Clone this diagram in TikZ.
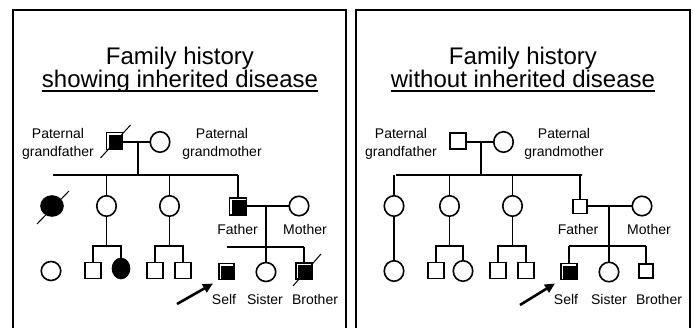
\documentclass[tikz,border=0pt]{standalone}
\usepackage{fontspec}
\setmainfont{Liberation Sans}
\usetikzlibrary{shapes.geometric,arrows.meta,calc}
\begin{document}
\begin{tikzpicture}[x=1pt,y=-1pt,
  sq/.style={draw,line width=1.6pt,rectangle,inner sep=0,outer sep=0,minimum width=15.5pt,minimum height=16pt},
  smsq/.style={sq,minimum width=14pt,minimum height=14pt},
  ci/.style={draw,line width=1.6pt,ellipse,inner sep=0,outer sep=0,minimum width=19.5pt,minimum height=20.5pt},
  fci/.style={ci,fill=black},
  ln/.style={line width=1.8pt},
  frame/.style={line width=2pt},
  lbl/.style={font=\fontsize{14}{17.5}\selectfont,inner sep=0,anchor=base,align=center},
  ttl/.style={font=\fontsize{24}{27}\selectfont,inner sep=0,anchor=base},
  slash/.style={line width=1pt},
  ptr/.style={line width=2.6pt,-{Triangle[length=10pt,width=9pt]}},
]
\useasboundingbox (0,0) rectangle (694,328);
\clip (0,0) rectangle (694,328);
\fill[white] (0,0) rectangle (694,328);
% frames
\draw[frame] (13,10) rectangle (346,345);
\draw[frame] (356,10) rectangle (690,345);

%================ LEFT PANEL =================
\node[ttl] (tL1) at (180,65) {Family history};
\node[ttl] (tL2) at (180,88) {showing inherited disease};
\draw[line width=1.7pt] ($(tL2.base west)+(0,3)$) -- ($(tL2.base east)+(0,3)$);

\node[sq,minimum width=16pt,minimum height=17pt] (gfL) at (114.5,141) {};
\fill ($(gfL.north west)+(2.2,2.2)$) rectangle (gfL.south east);
\draw[slash] ($(gfL)+(-14,17)$) -- ($(gfL)+(16,-16)$);
\node[ci] (gmL) at (160,142) {};
\draw[ln] (gfL.east |- gmL) -- (gmL.west);
\coordinate (mL) at (138,142);
\coordinate (sL) at (138,175);
\draw[ln] (mL) -- (sL);
\coordinate (sLa) at (53,175);
\coordinate (sLb) at (238,175);
\draw[ln] (sLa) -- (sLb);
\node[lbl] (pgfL) at (58,156.5) {Paternal\\grandfather};
\node[lbl] (pgmL) at (222,156.5) {Paternal\\grandmother};

% generation 2
\node[fci,minimum width=22pt,minimum height=20pt] (aL) at (52,206) {};
\draw[slash] ($(aL)+(-15,18)$) -- ($(aL)+(17,-15)$);
\node[ci] (bL) at (106.5,206) {};
\node[ci] (cL) at (169.5,206) {};
\node[sq,minimum width=17pt,minimum height=17pt] (fL) at (238,206.5) {};
\fill ($(fL.north west)+(2.2,2.2)$) rectangle (fL.south east);
\node[ci,minimum height=19.5pt] (moL) at (299,206) {};
\draw[ln] (bL.north) -- (bL.north |- sLa);
\draw[ln] (cL.north) -- (cL.north |- sLa);
\draw[ln] (fL.north) -- (fL.north |- sLa);
\draw[ln] (fL.east |- moL) -- (moL.west);
\node[lbl] (faL) at (237.5,234.5) {Father};
\node[lbl] (mtL) at (305,234.5) {Mother};
\coordinate (mL2) at (266,206);
\coordinate (sL2) at (266,247);
\draw[ln] (mL2) -- (sL2);
\coordinate (sL2a) at (227,247);
\coordinate (sL2b) at (304,247);
\draw[ln] (sL2a) -- (sL2b);

% generation 3
\node[ci,minimum height=19pt] (dL) at (51,271) {};
\coordinate (jL) at (106.5,246);
\draw[ln] (bL.south) -- (jL);
\node[sq] (eL) at (93,270.5) {};
\node[fci,minimum width=17pt,minimum height=20pt] (eeL) at (121,268.5) {};
\draw[ln] (eL.north) -- (eL.north |- jL) -- (eeL.north |- jL) -- (eeL.north);
\coordinate (kL) at (169.5,246);
\draw[ln] (cL.south) -- (kL);
\node[sq] (hL) at (155,270.5) {};
\node[sq] (hhL) at (183,270.5) {};
\draw[ln] (hL.north) -- (hL.north |- kL) -- (hhL.north |- kL) -- (hhL.north);
\node[sq] (selfL) at (226.5,271.5) {};
\fill ($(selfL.north west)+(2.2,2.2)$) rectangle (selfL.south east);
\node[ci,minimum height=19pt] (sisL) at (266,272) {};
\draw[ln] (sL2) -- (sisL.north);
\node[sq] (broL) at (304,271) {};
\fill ($(broL.north west)+(2.2,2.2)$) rectangle (broL.south east);
\draw[ln] (broL.north) -- (broL.north |- sL2b);
\draw[slash] ($(broL)+(-11,15)$) -- ($(broL)+(17,-17)$);
\node[lbl] (slfL) at (224,304.5) {Self};
\node[lbl] (stL) at (265,304.5) {Sister};
\node[lbl] (brL) at (315,304.5) {Brother};
\coordinate (arL1) at (177,304);
\coordinate (arL2) at (213,283.5);
\draw[ptr] (arL1) -- (arL2);

%================ RIGHT PANEL =================
\node[ttl] (tR1) at (523,65) {Family history};
\node[ttl] (tR2) at (523,88) {without inherited disease};
\draw[line width=1.7pt] ($(tR2.base west)+(0,3)$) -- ($(tR2.base east)+(0,3)$);

\node[sq,minimum width=16pt,minimum height=16pt] (gfR) at (458,141) {};
\node[ci] (gmR) at (503.5,142) {};
\draw[ln] (gfR.east |- gmR) -- (gmR.west);
\coordinate (mR) at (481,142);
\coordinate (sR) at (481,175);
\draw[ln] (mR) -- (sR);
\coordinate (sRa) at (396,175);
\coordinate (sRb) at (582,175);
\draw[ln] (sRa) -- (sRb);
\node[lbl] (pgfR) at (401,156.5) {Paternal\\grandfather};
\node[lbl] (pgmR) at (564,156.5) {Paternal\\grandmother};

% generation 2
\node[ci] (aR) at (394,206) {};
\node[ci] (bR) at (449.5,206) {};
\node[ci] (cR) at (512.5,206) {};
\node[smsq] (fR) at (580,206.5) {};
\node[ci,minimum height=19.5pt] (moR) at (642,206) {};
\draw[ln] (aR.north) -- (aR.north |- sRa);
\draw[ln] (bR.north) -- (bR.north |- sRa);
\draw[ln] (cR.north) -- (cR.north |- sRa);
\draw[ln] (fR.north) -- (fR.north |- sRa);
\draw[ln] (fR.east |- moR) -- (moR.west);
\node[lbl] (faR) at (578,234.5) {Father};
\node[lbl] (mtR) at (649,234.5) {Mother};
\coordinate (mR2) at (609,206);
\coordinate (sR2) at (609,246);
\draw[ln] (mR2) -- (sR2);
\coordinate (sR2a) at (569,246);
\coordinate (sR2b) at (646,246);
\draw[ln] (sR2a) -- (sR2b);

% generation 3
\node[ci] (dR) at (394,271) {};
\draw[ln] (aR.south) -- (dR.north);
\coordinate (jR) at (449.5,246);
\draw[ln] (bR.south) -- (jR);
\node[sq] (eR) at (436,270.5) {};
\node[ci] (eeR) at (463,271) {};
\draw[ln] (eR.north) -- (eR.north |- jR) -- (eeR.north |- jR) -- (eeR.north);
\coordinate (kR) at (512.5,246);
\draw[ln] (cR.south) -- (kR);
\node[sq] (hR) at (498,270.5) {};
\node[sq] (hhR) at (526,270.5) {};
\draw[ln] (hR.north) -- (hR.north |- kR) -- (hhR.north |- kR) -- (hhR.north);
\node[sq] (selfR) at (569,271.5) {};
\fill ($(selfR.north west)+(2.2,2.2)$) rectangle (selfR.south east);
\draw[ln] (sR2a) -- (selfR.north);
\node[ci,minimum height=19.5pt] (sisR) at (609,272) {};
\draw[ln] (sR2) -- (sisR.north);
\node[smsq] (broR) at (646,271) {};
\draw[ln] (broR.north) -- (broR.north |- sR2b);
\node[lbl] (slfR) at (566,304.5) {Self};
\node[lbl] (stR) at (609,304.5) {Sister};
\node[lbl] (brR) at (659,304.5) {Brother};
\coordinate (arR1) at (520,305);
\coordinate (arR2) at (555,283.5);
\draw[ptr] (arR1) -- (arR2);
\end{tikzpicture}
\end{document}
